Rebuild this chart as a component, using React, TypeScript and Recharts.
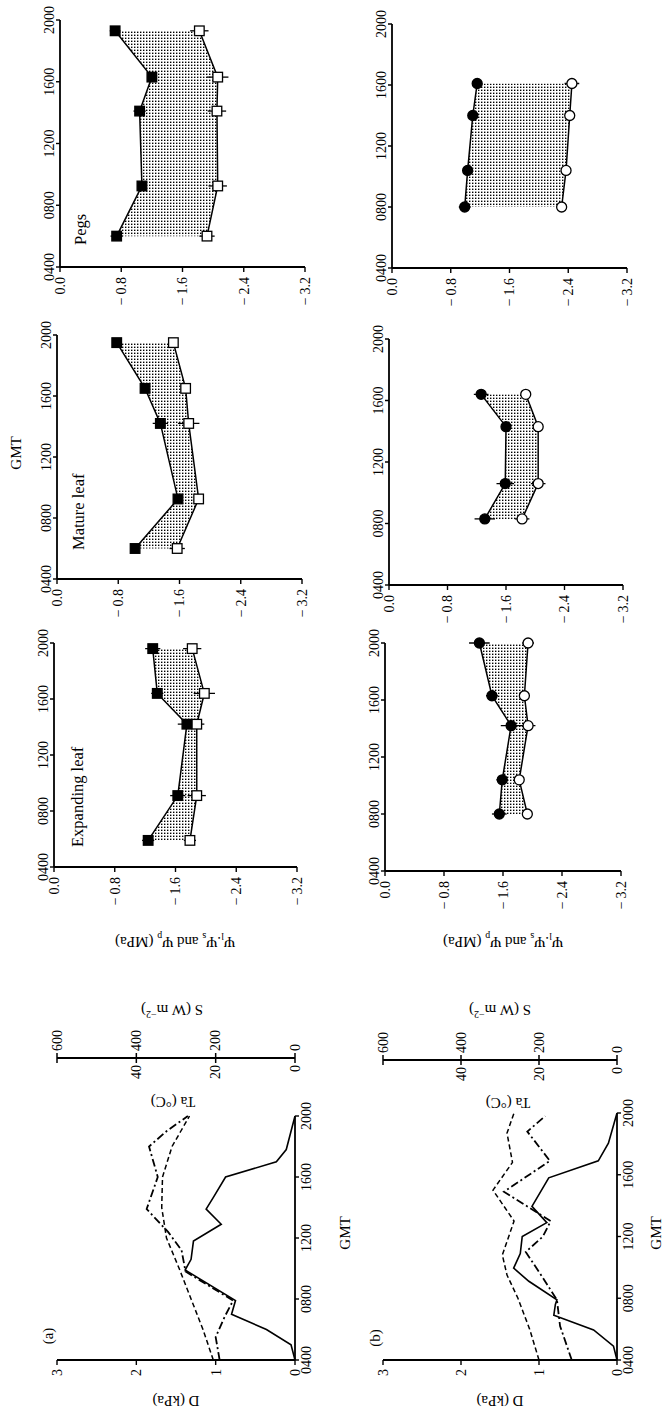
import React from "react";
import { ComposedChart, Line, Area, XAxis, YAxis, ErrorBar } from "recharts";

const FONT = '"Liberation Serif", "Times New Roman", serif';

// shared ticks
const timeTicks = [4, 8, 12, 16, 20];
const psiTicks = [0, -0.8, -1.6, -2.4, -3.2];
const dTicks = [0, 1, 2, 3];
const sTicks = [0, 200, 400, 600];
const taTicks = [0, 20, 40];

// (a) expanding leaf
const expA_t = [5.9, 9.1, 14.2, 16.4, 19.6];
const expA_psiL = [-1.24, -1.63, -1.75, -1.36, -1.3];
const expA_psiS = [-1.79, -1.88, -1.88, -1.98, -1.82];
const expA_errL = [0.08, 0.1, 0.12, 0.08, 0.1];
const expA_errS = [0.08, 0.12, 0.1, 0.14, 0.12];

// (a) mature leaf
const matA_t = [6.0, 9.25, 14.2, 16.5, 19.5];
const matA_psiL = [-1.02, -1.58, -1.35, -1.15, -0.78];
const matA_psiS = [-1.57, -1.85, -1.72, -1.68, -1.52];
const matA_errL = [0.05, 0.06, 0.1, 0.05, 0.05];
const matA_errS = [0.1, 0.06, 0.14, 0.05, 0.05];

// (a) pegs
const pegA_t = [6.0, 9.25, 14.1, 16.3, 19.3];
const pegA_psiL = [-0.74, -1.07, -1.04, -1.2, -0.72];
const pegA_psiS = [-1.92, -2.06, -2.05, -2.06, -1.82];
const pegA_errL = [0.08, 0.06, 0.08, 0.06, 0.07];
const pegA_errS = [0.1, 0.12, 0.12, 0.14, 0.12];

// (b) expanding leaf
const expB_t = [8.0, 10.4, 14.2, 16.3, 20.0];
const expB_psiL = [-1.55, -1.59, -1.71, -1.45, -1.28];
const expB_psiS = [-1.93, -1.82, -1.94, -1.89, -1.94];
const expB_errL = [0.1, 0.08, 0.14, 0.08, 0.14];
const expB_errS = [0.06, 0.05, 0.1, 0.06, 0.08];

// (b) mature leaf
const matB_t = [8.3, 10.6, 14.3, 16.4];
const matB_psiL = [-1.31, -1.59, -1.6, -1.26];
const matB_psiS = [-1.82, -2.04, -2.04, -1.87];
const matB_errL = [0.14, 0.12, 0.06, 0.1];
const matB_errS = [0.1, 0.1, 0.06, 0.05];

// (b) pegs
const pegB_t = [8.0, 10.4, 14.0, 16.1];
const pegB_psiL = [-0.99, -1.03, -1.1, -1.16];
const pegB_psiS = [-2.31, -2.37, -2.42, -2.45];
const pegB_errL = [0.08, 0.05, 0.05, 0.06];
const pegB_errS = [0.05, 0.05, 0.05, 0.1];

// climate (a)
const radA_t = [4, 5, 6, 7, 7.9, 9.9, 10.6, 11.8, 12.9, 13.9, 14.7, 16.0, 17.0, 17.8, 20];
const radA_v = [0, 10, 72, 160, 150, 277, 262, 256, 186, 224, 205, 175, 47, 22, 0];
const taA_t = [4, 6, 8, 10, 12, 14, 16, 18, 19, 20];
const taA_v = [20.6, 23.2, 26.2, 29.2, 32.4, 33.6, 33.4, 31, 28.8, 26.6];
const vpdA_t = [4, 5.5, 6.8, 7.9, 9.8, 11.2, 12.4, 13.9, 16.0, 18.0, 19.0, 20.0];
const vpdA_v = [0.95, 1.0, 0.89, 0.78, 1.38, 1.43, 1.6, 1.87, 1.73, 1.84, 1.62, 1.35];

// climate (b)
const radB_t = [4, 4.9, 5.95, 6.9, 7.6, 7.9, 9.1, 9.95, 10.9, 12.0, 12.9, 13.95, 15.8, 16.9, 18.05, 20];
const radB_v = [0, 9, 60, 162, 158, 154, 226, 265, 248, 243, 180, 218, 175, 48, 22, 0];
const taB_t = [4, 6, 8, 9.5, 10.8, 13.0, 15.0, 16.8, 18.7, 20];
const taB_v = [20, 22.4, 25.4, 28.2, 29.4, 26.4, 31.8, 26.8, 28.2, 26.4];
const vpdB_t = [4, 6.2, 7.9, 9.4, 11.0, 12.0, 13.0, 14.9, 16.9, 18.8, 19.8];
const vpdB_v = [0.58, 0.73, 0.77, 0.96, 1.17, 0.95, 0.85, 1.45, 0.86, 1.15, 0.92];

const fmtTime = (v: number) => String(v * 100).padStart(4, "0");
const fmtPsi = (v: number) => (v === 0 ? "0.0" : "\u2212\u2009" + Math.abs(v).toFixed(1));

const psiRows = (t: number[], l: number[], s: number[], el: number[], es: number[]) =>
  t.map((x, i) => ({ t: x, psiL: l[i], psiS: s[i], range: [s[i], l[i]], errL: el[i], errS: es[i] }));
const series = (t: number[], v: number[]) => t.map((x, i) => ({ t: x, v: v[i] }));

const tickStyle = { fill: "#000", fontSize: 14, fontFamily: FONT };
const axisLine = { stroke: "#000", strokeWidth: 1.8 };
const tickLine = { stroke: "#000", strokeWidth: 1.4 };

function Marker({ cx, cy, filled, shape }: any) {
  if (cx == null || cy == null) return null;
  const fill = filled ? "#000" : "#fff";
  if (shape === "square")
    return <rect x={cx - 4.8} y={cy - 4.8} width={9.6} height={9.6} fill={fill} stroke="#000" strokeWidth={1.3} />;
  return <circle cx={cx} cy={cy} r={5} fill={fill} stroke="#000" strokeWidth={1.3} />;
}

const XH = 26;
const YW = 46;
const PR = 22; // room for the last time label

function PsiPanel({ g, rows, shape }: any) {
  const w = g.u1 - g.u0 + YW + PR;
  const h = g.v1 - g.v0 + XH + 8;
  return (
    <div style={{ position: "absolute", left: g.u0 - YW, top: g.v0 - XH }}>
      <ComposedChart width={w} height={h} data={rows} margin={{ top: 0, right: PR, bottom: 8, left: 0 }}>
        <XAxis
          dataKey="t"
          type="number"
          orientation="top"
          domain={[4, 20]}
          ticks={timeTicks}
          interval={0}
          tickFormatter={fmtTime}
          height={XH}
          axisLine={axisLine}
          tickLine={tickLine}
          tickSize={4}
          tickMargin={2}
          tick={tickStyle}
        />
        <YAxis
          type="number"
          domain={[-3.2, 0]}
          ticks={psiTicks}
          interval={0}
          tickFormatter={fmtPsi}
          width={YW}
          axisLine={axisLine}
          tickLine={tickLine}
          tickSize={5}
          tickMargin={5}
          tick={tickStyle}
        />
        <Area dataKey="range" stroke="none" fill="url(#stipple)" fillOpacity={1} isAnimationActive={false} />
        <Line
          dataKey="psiS"
          stroke="#000"
          strokeWidth={1.5}
          isAnimationActive={false}
          dot={(p: any) => <Marker key={"s" + p.index} cx={p.cx} cy={p.cy} shape={shape} filled={false} />}
        >
          <ErrorBar dataKey="errS" direction="y" width={0} stroke="#000" strokeWidth={1.3} />
        </Line>
        <Line
          dataKey="psiL"
          stroke="#000"
          strokeWidth={1.5}
          isAnimationActive={false}
          dot={(p: any) => <Marker key={"l" + p.index} cx={p.cx} cy={p.cy} shape={shape} filled />}
        >
          <ErrorBar dataKey="errL" direction="y" width={0} stroke="#000" strokeWidth={1.3} />
        </Line>
      </ComposedChart>
    </div>
  );
}

function SAxisTick(props: any) {
  const { x, y, payload } = props;
  const s = payload.value;
  const ta = s / 10;
  return (
    <g>
      <line x1={x - 5} x2={x + 5} y1={y} y2={y} stroke="#000" strokeWidth={1.5} />
      <text x={x + 7} y={y} dy={4.8} textAnchor="start" {...tickStyle}>
        {s}
      </text>
      {taTicks.includes(ta) && (
        <text x={x - 7} y={y} dy={4.8} textAnchor="end" {...tickStyle}>
          {ta}
        </text>
      )}
    </g>
  );
}

const DW = 34;
const SW = 50;
const CXH = 30;

function ClimatePanel({ g, rad, ta, vpd }: any) {
  const gap = g.su - g.u1;
  const w = DW + (g.u1 - g.u0) + gap + SW;
  const h = 8 + (g.v1 - g.v0) + CXH;
  return (
    <div style={{ position: "absolute", left: g.u0 - DW, top: g.v0 - 8 }}>
      <ComposedChart width={w} height={h} margin={{ top: 8, right: 0, bottom: 0, left: 0 }}>
        <XAxis
          dataKey="t"
          type="number"
          domain={[4, 20]}
          ticks={timeTicks}
          interval={0}
          tickFormatter={fmtTime}
          height={CXH}
          axisLine={axisLine}
          tickLine={tickLine}
          tickSize={4}
          tickMargin={2}
          tick={tickStyle}
        />
        <YAxis
          yAxisId="a_d"
          orientation="left"
          type="number"
          domain={[0, 3]}
          ticks={dTicks}
          interval={0}
          width={DW}
          axisLine={axisLine}
          tickLine={tickLine}
          tickSize={5}
          tickMargin={4}
          tick={tickStyle}
        />
        {/* Ta scale: invisible, only keeps the gap between plot and the S/Ta axis */}
        <YAxis yAxisId="b_ta" orientation="right" type="number" domain={[0, 60]} width={gap} axisLine={false} tickLine={false} tick={false} />
        <YAxis
          yAxisId="c_s"
          orientation="right"
          type="number"
          domain={[0, 600]}
          ticks={sTicks}
          interval={0}
          width={SW}
          axisLine={axisLine}
          tickLine={false}
          tickSize={0}
          tickMargin={0}
          tick={<SAxisTick />}
        />
        <Line data={rad} dataKey="v" yAxisId="c_s" stroke="#000" strokeWidth={1.6} dot={false} isAnimationActive={false} />
        <Line data={ta} dataKey="v" yAxisId="b_ta" stroke="#000" strokeWidth={1.5} strokeDasharray="5 3" dot={false} isAnimationActive={false} />
        <Line data={vpd} dataKey="v" yAxisId="a_d" stroke="#000" strokeWidth={1.8} strokeDasharray="8 3 2 3" dot={false} isAnimationActive={false} />
      </ComposedChart>
    </div>
  );
}

function RotText({ u, v, size = 15, children }: any) {
  return (
    <div
      style={{
        position: "absolute",
        left: u,
        top: v,
        transform: "translate(-50%,-50%) rotate(-90deg)",
        whiteSpace: "nowrap",
        fontSize: size,
        lineHeight: 1,
      }}
    >
      {children}
    </div>
  );
}

function Text({ u, v, size = 15, left = false, children }: any) {
  return (
    <div
      style={{
        position: "absolute",
        left: u,
        top: v,
        transform: left ? "translate(0,-50%)" : "translate(-50%,-50%)",
        whiteSpace: "nowrap",
        fontSize: size,
        lineHeight: 1,
      }}
    >
      {children}
    </div>
  );
}

const PsiTitle = () => (
  <span>
    Ψ<sub style={{ fontSize: 10 }}>l</sub>.Ψ<sub style={{ fontSize: 10 }}>s</sub> and Ψ<sub style={{ fontSize: 10 }}>p</sub> (MPa)
  </span>
);
const STitle = () => (
  <span>
    S (W m<sup style={{ fontSize: 10 }}>−2</sup>)
  </span>
);

export default function App() {
  return (
    <div style={{ position: "absolute", left: 0, top: 0, width: 666, height: 1413, overflow: "hidden", background: "#fff" }}>
      <svg width={0} height={0} style={{ position: "absolute" }}>
        <defs>
          <pattern id="stipple" width={3} height={3} patternUnits="userSpaceOnUse">
            <rect x={1} y={1} width={1.4} height={1.4} fill="#000" />
          </pattern>
        </defs>
      </svg>
      <div
        style={{
          position: "absolute",
          left: 0,
          top: 0,
          width: 1413,
          height: 666,
          transformOrigin: "0 0",
          transform: "translate(0px, 1413px) rotate(-90deg)",
          fontFamily: FONT,
          color: "#000",
        }}
      >
        {/* row (a) */}
        <ClimatePanel g={{ u0: 53, u1: 297, v0: 57, v1: 295, su: 355 }} rad={series(radA_t, radA_v)} ta={series(taA_t, taA_v)} vpd={series(vpdA_t, vpdA_v)} />
        <PsiPanel g={{ u0: 546, u1: 770, v0: 54, v1: 297 }} rows={psiRows(expA_t, expA_psiL, expA_psiS, expA_errL, expA_errS)} shape="square" />
        <PsiPanel g={{ u0: 834, u1: 1078, v0: 57, v1: 302 }} rows={psiRows(matA_t, matA_psiL, matA_psiS, matA_errL, matA_errS)} shape="square" />
        <PsiPanel g={{ u0: 1146, u1: 1393, v0: 60, v1: 305 }} rows={psiRows(pegA_t, pegA_psiL, pegA_psiS, pegA_errL, pegA_errS)} shape="square" />

        {/* row (b) */}
        <ClimatePanel g={{ u0: 53, u1: 300, v0: 383, v1: 617, su: 353 }} rad={series(radB_t, radB_v)} ta={series(taB_t, taB_v)} vpd={series(vpdB_t, vpdB_v)} />
        <PsiPanel g={{ u0: 542, u1: 770, v0: 385, v1: 621 }} rows={psiRows(expB_t, expB_psiL, expB_psiS, expB_errL, expB_errS)} shape="circle" />
        <PsiPanel g={{ u0: 828, u1: 1074, v0: 389, v1: 623 }} rows={psiRows(matB_t, matB_psiL, matB_psiS, matB_errL, matB_errS)} shape="circle" />
        <PsiPanel g={{ u0: 1145, u1: 1389, v0: 392, v1: 627 }} rows={psiRows(pegB_t, pegB_psiL, pegB_psiS, pegB_errL, pegB_errS)} shape="circle" />

        {/* titles */}
        <Text u={77} v={48} size={15}>(a)</Text>
        <Text u={75} v={375} size={15}>(b)</Text>
        <RotText u={13} v={176}>D (kPa)</RotText>
        <RotText u={13} v={500}>D (kPa)</RotText>
        <RotText u={312} v={173}>Ta (°C)</RotText>
        <RotText u={311} v={508}>Ta (°C)</RotText>
        <RotText u={403} v={172}><STitle /></RotText>
        <RotText u={403} v={500}><STitle /></RotText>
        <RotText u={473} v={175}><PsiTitle /></RotText>
        <RotText u={473} v={503}><PsiTitle /></RotText>
        <Text u={180} v={345}>GMT</Text>
        <Text u={180} v={656}>GMT</Text>
        <Text u={960} v={16}>GMT</Text>
        <Text u={566} v={78} size={16.5} left>Expanding leaf</Text>
        <Text u={863} v={79} size={16.5} left>Mature leaf</Text>
        <Text u={1168} v={81} size={16.5} left>Pegs</Text>
      </div>
    </div>
  );
}
